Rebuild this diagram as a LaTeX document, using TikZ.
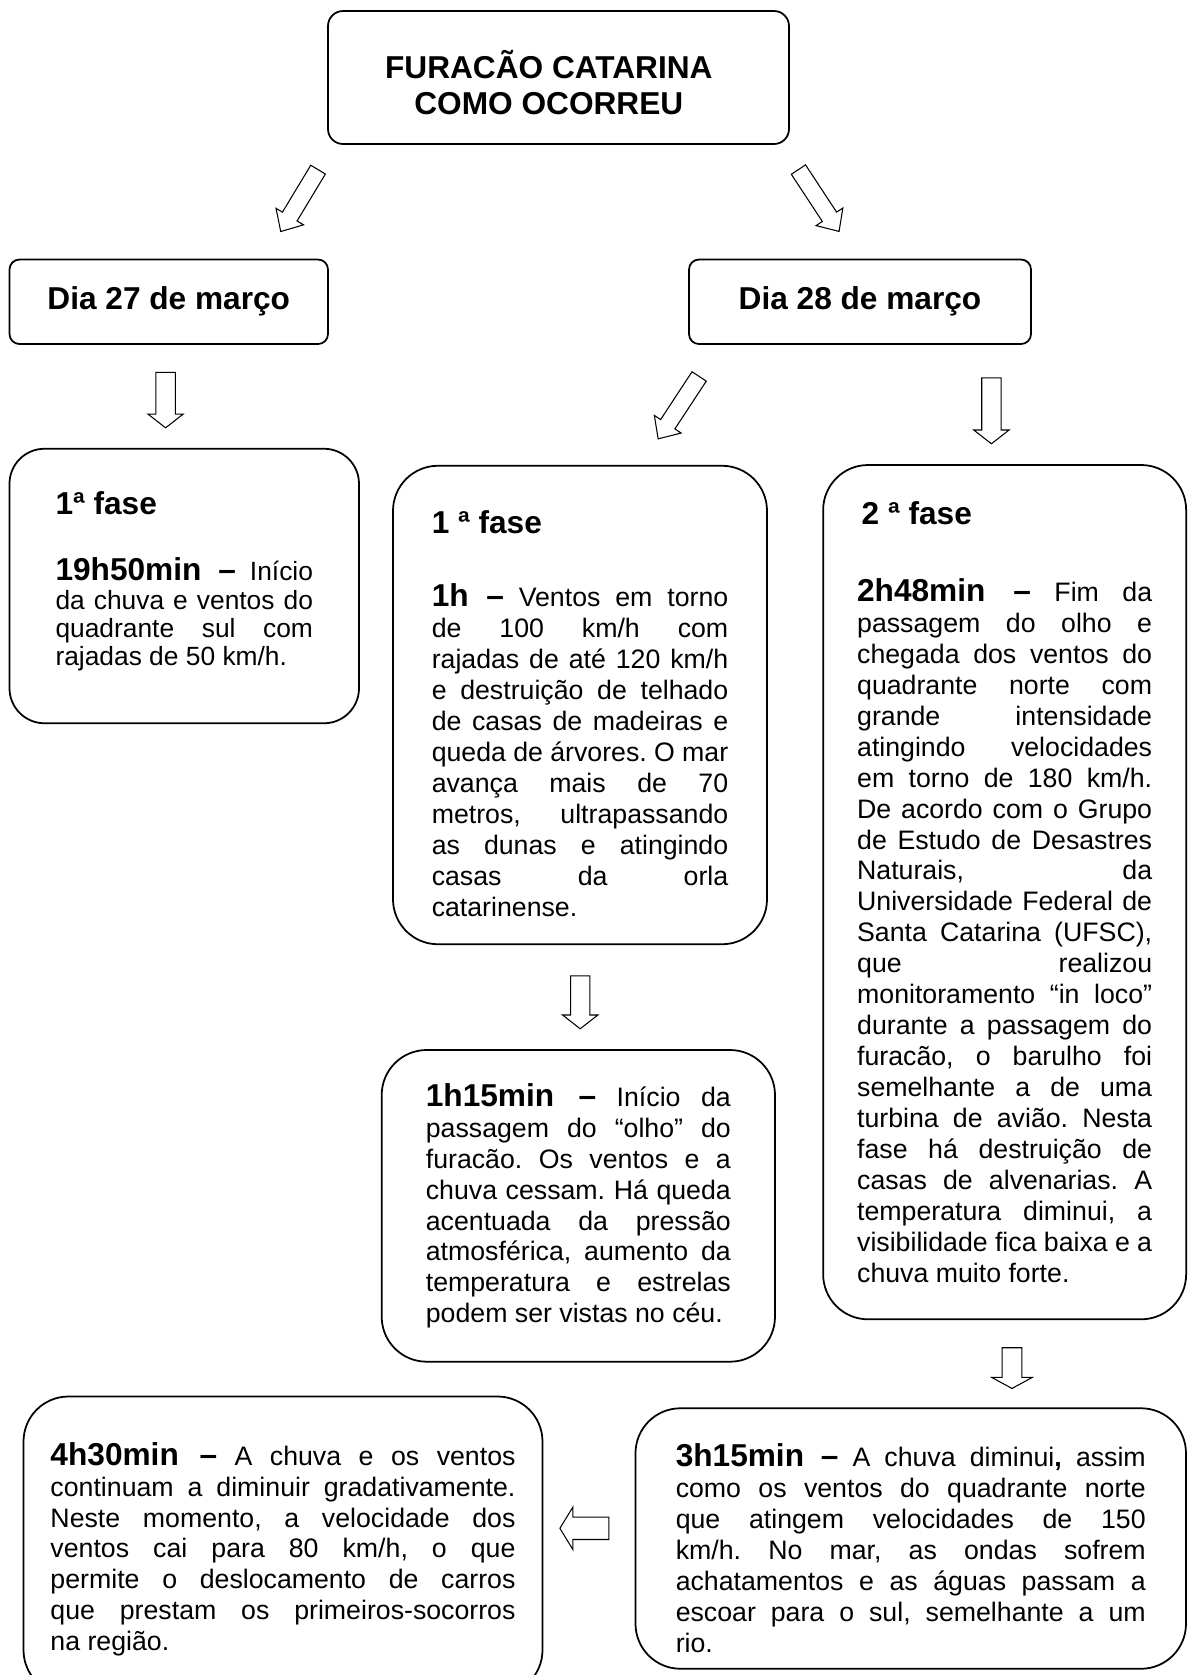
\documentclass[tikz,border=0pt]{standalone}
\usepackage{fontspec}
\setmainfont{Liberation Sans}
\usetikzlibrary{shapes.arrows}
\setlength{\parindent}{0pt}
\frenchspacing
\tolerance=10000
\hbadness=10000
\hyphenpenalty=10000
\newcommand{\grande}{\fontsize{18}{20.7}\selectfont\bfseries}
\newcommand{\fasetit}[2][25pt]{{\grande #2\par}\vspace{#1}}
\newcommand{\hora}[1]{{\grande #1 –}}
\newcommand{\topo}[1]{\rule{0pt}{#1}}
\newcommand{\fundo}[1]{\rule[-#1]{0pt}{#1}}
\begin{document}
\begin{tikzpicture}[font=\fontsize{15.2}{17.6}\selectfont,
  bx/.style={rectangle, draw=black, line width=1pt, rounded corners=0.9cm, align=justify, inner sep=0pt},
  cab/.style={rectangle, draw=black, line width=1pt, rounded corners=0.2cm, align=center, font=\grande},
  arr/.style={single arrow, draw=black, line width=0.6pt, inner xsep=0pt, inner ysep=0.16cm, single arrow head extend=0.15cm, single arrow tip angle=85, minimum width=0pt},
  arrb/.style={arr, inner ysep=0.183cm, single arrow head extend=0.16cm, single arrow tip angle=104}]
\useasboundingbox (0,0) rectangle (23.76,-33.5);
% titulo e dias
\node[cab, rounded corners=0.3cm, minimum width=9.22cm, minimum height=2.66cm] (tit) at (11.17,-1.55) {\topo{22pt}FURACÃO CATARINA\hspace*{11pt}\\COMO OCORREU\hspace*{11pt}};
\node[cab, minimum width=6.37cm, minimum height=1.69cm] (d27) at (3.375,-6.035) {Dia 27 de março};
\node[cab, minimum width=6.84cm, minimum height=1.69cm] (d28) at (17.2,-6.035) {Dia 28 de março};
% fases
\node[bx, rounded corners=0.7cm, minimum width=6.99cm, minimum height=5.49cm, text width=5.15cm, font=\fontsize{15}{16.1}\selectfont] (f1) at (3.685,-11.72) {\fasetit[21.8pt]{1ª fase}\hora{19h50min} Início\linebreak da chuva e ventos do\linebreak quadrante sul com\linebreak rajadas de 50 km/h.\fundo{8.4pt}};
\node[bx, minimum width=7.48cm, minimum height=9.57cm, text width=5.93cm] (f1b) at (11.6,-14.10) {\topo{22.8pt}\fasetit[24.2pt]{1 ª fase}\hora{1h} Ventos em torno\linebreak de 100 km/h com\linebreak rajadas de até 120 km/h\linebreak e destruição de telhado\linebreak de casas de madeiras e\linebreak queda de árvores. O mar\linebreak avança mais de 70\linebreak metros, ultrapassando\linebreak as dunas e atingindo\linebreak casas da orla\linebreak catarinense.};
\node[bx, minimum width=7.26cm, minimum height=17.086cm, text width=5.9cm] (f2) at (20.093,-17.843) {\leftskip=2.6pt\rightskip=-2.6pt\fasetit[26pt]{2 ª fase}\hora{2h48min} Fim da\linebreak passagem do olho e\linebreak chegada dos ventos do\linebreak quadrante norte com\linebreak grande intensidade\linebreak atingindo velocidades\linebreak em torno de 180 km/h.\linebreak De acordo com o Grupo\linebreak de Estudo de Desastres\linebreak Naturais, da\linebreak Universidade Federal de\linebreak Santa Catarina (UFSC),\linebreak que realizou\linebreak monitoramento “in loco”\linebreak durante a passagem do\linebreak furacão, o barulho foi\linebreak semelhante a de uma\linebreak turbina de avião. Nesta\linebreak fase há destruição de\linebreak casas de alvenarias. A\linebreak temperatura diminui, a\linebreak visibilidade fica baixa e a\linebreak chuva muito forte.};
\node[bx, minimum width=7.866cm, minimum height=6.234cm, text width=6.1cm] (f1c) at (11.567,-24.117) {\leftskip=2.6pt\rightskip=-2.6pt\hora{1h15min} Início da\linebreak passagem do “olho” do\linebreak furacão. Os ventos e a\linebreak chuva cessam. Há queda\linebreak acentuada da pressão\linebreak atmosférica, aumento da\linebreak temperatura e estrelas\linebreak podem ser vistas no céu.};
\node[bx, minimum width=11.01cm, minimum height=5.21cm, text width=9.4cm] (f3) at (18.215,-30.77) {\leftskip=4.5pt\rightskip=-4.5pt\topo{24pt}\hora{3h15min} A chuva diminui\textbf{,} assim\linebreak como os ventos do quadrante norte\linebreak que atingem velocidades de 150\linebreak km/h. No mar, as ondas sofrem\linebreak achatamentos e as águas passam a\linebreak escoar para o sul, semelhante a um\linebreak rio.};
\node[bx, minimum width=10.38cm, minimum height=5.97cm, text width=9.3cm] (f4) at (5.66,-30.915) {\leftskip=3pt\rightskip=-3pt\topo{17pt}\hora{4h30min} A chuva e os ventos\linebreak continuam a diminuir gradativamente.\linebreak Neste momento, a velocidade dos\linebreak ventos cai para 80 km/h, o que\linebreak permite o deslocamento de carros\linebreak que prestam os primeiros-socorros\linebreak na região.};
% setas
\node[arr, minimum height=1.446cm, rotate=-121.1] (a1) at (6.036,-3.932) {};
\node[arr, minimum height=1.48cm, rotate=-56.7] (a2) at (16.324,-3.932) {};
\node[arrb, minimum height=1.11cm, rotate=-90] (a3) at (3.312,-7.926) {};
\node[arr, minimum height=1.494cm, rotate=-123.3] (a4) at (13.624,-8.075) {};
\node[arrb, minimum height=1.32cm, rotate=-90] (a5) at (19.828,-8.14) {};
\node[arrb, minimum height=1.06cm, rotate=-90] (a6) at (11.604,-19.97) {};
\node[arrb, inner ysep=0.187cm, single arrow head extend=0.207cm, single arrow tip angle=123, minimum height=0.814cm, rotate=-90] (a7) at (20.24,-27.308) {};
\node[arrb, inner ysep=0.213cm, single arrow head extend=0.203cm, single arrow tip angle=117, minimum height=0.98cm, rotate=180] (a8) at (11.756,-30.566) {};
\end{tikzpicture}
\end{document}
